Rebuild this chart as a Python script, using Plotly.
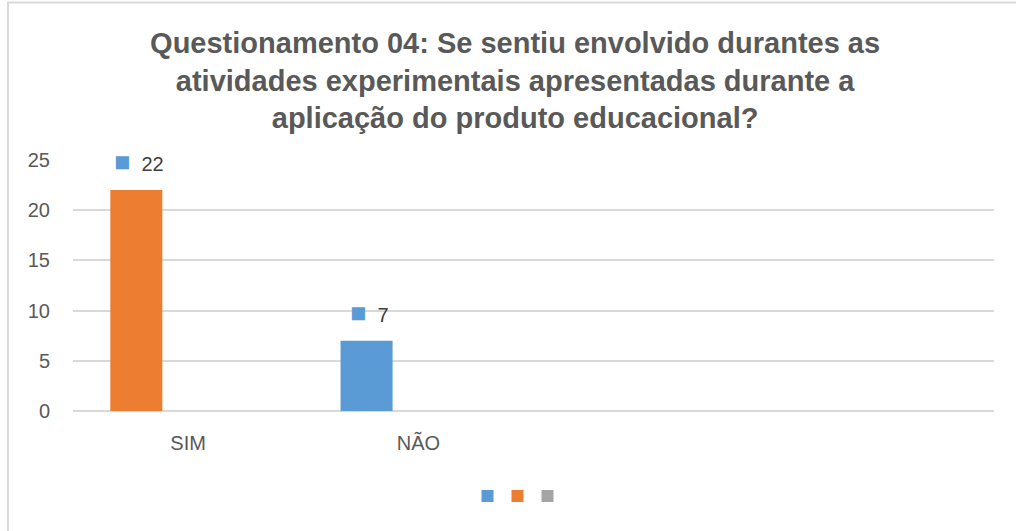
import plotly.graph_objects as go

categories = ["SIM", "NÃO"]
series_names = ["Série1", "Série2", "Série3"]
series_values = [
    [None, 7],
    [22, None],
    [None, None],
]
series_colors = ["#5B9BD5", "#ED7D31", "#A5A5A5"]
label_values = [22, 7]

TEXT = "#595959"
LINE = "#D9D9D9"
FONT = "Liberation Sans"

BAR_W = 0.226
BAR_OFF = -0.338

fig = go.Figure()
legend_ids = ["legend", "legend2", "legend3"]
for name, vals, col, lg in zip(series_names, series_values, series_colors, legend_ids):
    fig.add_trace(go.Bar(
        x=categories, y=vals, name=name, legend=lg, showlegend=True,
        width=BAR_W, offset=BAR_OFF,
        marker=dict(color=col, line=dict(width=0)),
    ))

# data labels with the series key in front of the value
for i, v in enumerate(label_values):
    fig.add_annotation(
        x=i + BAR_OFF + BAR_W / 2, y=v,
        text=f"<span style='color:{series_colors[0]};font-size:27px'>■</span>  {v}",
        showarrow=False, yshift=28, xshift=3,
        font=dict(family=FONT, size=20, color="#404040"),
    )

# one small legend per series so the keys sit close together, text hidden
legend_style = dict(
    orientation="h", xref="container", yref="container",
    xanchor="center", y=35 / 531, yanchor="middle",
    itemwidth=30, font=dict(size=1, color="rgba(0,0,0,0)"),
    bgcolor="rgba(0,0,0,0)",
)
legend_x = [492, 522, 552]

fig.update_layout(
    barmode="overlay",
    showlegend=True,
    width=1016, height=531,
    paper_bgcolor="white", plot_bgcolor="white",
    font=dict(family=FONT, color=TEXT, size=20),
    margin=dict(l=73, r=22, t=160, b=120),
    title=dict(
        text="<b>Questionamento 04: Se sentiu envolvido durantes as<br>"
             "atividades experimentais apresentadas durante a<br>"
             "aplicação do produto educacional?</b>",
        x=0.507, xanchor="center", xref="container",
        y=1 - 53 / 531, yanchor="middle", yref="container",
        font=dict(family=FONT, size=29, color=TEXT),
    ),
    legend=dict(legend_style, x=legend_x[0] / 1016),
    legend2=dict(legend_style, x=legend_x[1] / 1016),
    legend3=dict(legend_style, x=legend_x[2] / 1016),
    shapes=[dict(
        type="rect", xref="paper", yref="paper",
        x0=-0.0706, y0=-1, x1=1.1, y1=1.627,
        line=dict(color=LINE, width=2), layer="below",
    )],
)
fig.update_xaxes(
    range=[-0.5, 3.5], showgrid=False, showline=False,
    ticks="", ticklabelstandoff=18, tickfont=dict(size=20, color=TEXT),
)
fig.update_yaxes(
    range=[0, 25], dtick=5, showgrid=True, gridcolor=LINE, gridwidth=1.5,
    zeroline=True, zerolinecolor=LINE, zerolinewidth=1.5,
    ticks="", ticklabelstandoff=22, tickfont=dict(size=20, color=TEXT),
)

fig.write_html("out.html", config={"displayModeBar": False},
               post_script="document.body.style.margin='0';")
